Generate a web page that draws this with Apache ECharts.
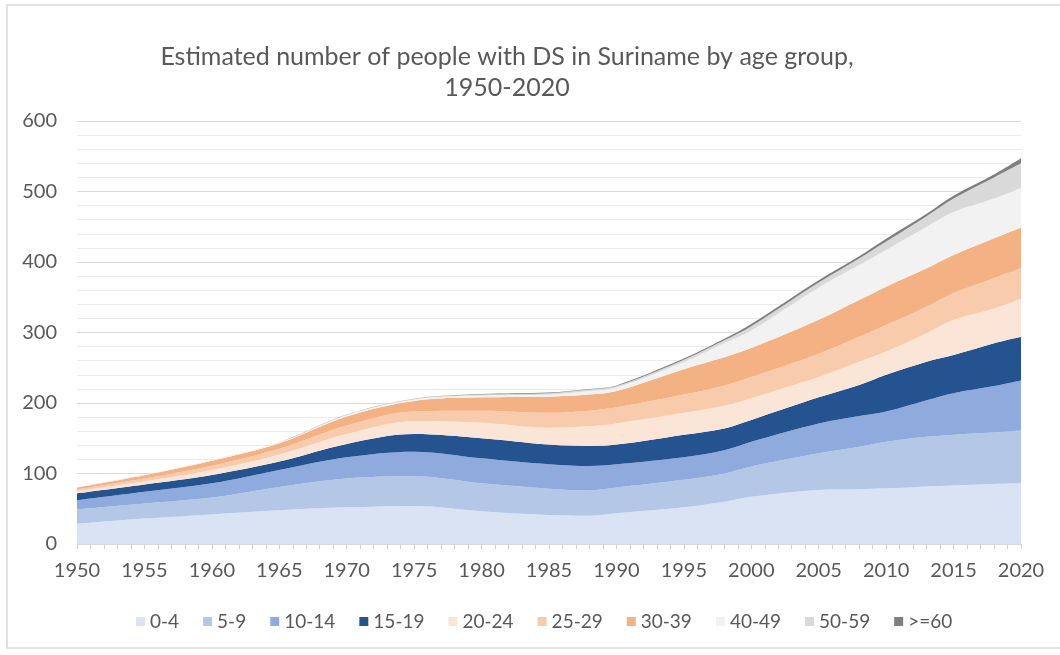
<!DOCTYPE html>
<html>
<head>
<meta charset="utf-8">
<script src="https://cdn.jsdelivr.net/npm/echarts@6/dist/echarts.min.js"></script>
<style>
  html, body { margin: 0; padding: 0; background: #ffffff; }
  #chart { width: 1060px; height: 655px; }
</style>
</head>
<body>
<div id="chart"></div>
<script>
// Years at which the estimates are given
const years = [1950, 1955, 1960, 1965, 1970, 1975, 1980, 1985, 1988, 1990,
               1995, 1998, 2000, 2005, 2008, 2010, 2013, 2015, 2018, 2020];

// Estimated number of people with DS, per age group
const age0_4   = [28.5, 36, 42, 48, 52, 54, 46.5, 41, 40, 43.5, 52, 60, 67, 76.6, 77.6, 79, 81.6, 83, 85, 86];
const age5_9   = [20.5, 21.5, 24, 33, 41, 42, 39.5, 37.5, 36, 36.5, 39, 40, 43, 52, 60.4, 66, 70.4, 72, 73, 75];
const age10_14 = [13, 16.5, 20, 24, 30, 35, 35.5, 34.5, 34.5, 33, 32, 33, 35, 42.4, 43.5, 43, 52, 59, 66, 71];
const age15_19 = [10, 10.5, 12, 12, 19, 25, 28.5, 28, 28.5, 28, 32, 31, 31, 37, 44, 52, 54.6, 54, 60.7, 62];
const age20_24 = [3, 4.5, 7, 10, 14, 18, 22, 24, 28, 30, 31, 32, 31, 29, 33.1, 33, 40.4, 50, 49.3, 54];
const age25_29 = [2.5, 4, 6, 8, 12, 14, 17, 21, 22, 23, 26, 29, 30, 33, 35.4, 37.6, 37.6, 38, 43, 43];
const age30_39 = [2.5, 4.5, 7, 8, 13, 15, 19, 23, 23, 23, 36, 40, 41, 48, 52, 54.4, 54.4, 54, 56.6, 58];
const age40_49 = [0.3, 0.5, 1, 1, 2, 2, 2.5, 3, 5, 5, 10, 20, 25, 46, 49.7, 52, 59, 61, 56.4, 56];
const age50_59 = [0.1, 0.1, 0.2, 0.3, 0.5, 0.8, 1.5, 2, 2, 2, 3.5, 4, 6, 7, 9.3, 12, 15, 19, 30, 35];
const age60up  = [0.1, 0.1, 0.1, 0.1, 0.2, 0.4, 0.8, 1, 1, 1, 1.5, 2, 3, 3, 3, 4, 3.5, 4, 4, 7];

const groupNames  = ['0-4', '5-9', '10-14', '15-19', '20-24', '25-29', '30-39', '40-49', '50-59', '>=60'];
const groupValues = [age0_4, age5_9, age10_14, age15_19, age20_24, age25_29, age30_39, age40_49, age50_59, age60up];
const groupColors = ['#dae3f3', '#b4c7e7', '#8faadc', '#24538f', '#fbe5d6',
                     '#f8cbad', '#f4b183', '#f2f2f2', '#d9d9d9', '#7f7f7f'];

// Axis: one category per calendar year, labelled every fifth year
const firstYear = 1950;
const lastYear = 2020;
const yearAxis = [];
for (let y = firstYear; y <= lastYear; y++) yearAxis.push(String(y));

const yTicks = [0, 100, 200, 300, 400, 500, 600];

const font = 'Lato, "Open Sans", sans-serif';
const textColor = '#595959';

const series = groupNames.map((name, i) => ({
  name: name,
  type: 'line',
  stack: 'people',
  smooth: 0.35,
  symbol: 'none',
  lineStyle: { width: 0 },
  itemStyle: { color: groupColors[i] },
  areaStyle: { color: groupColors[i], opacity: 1 },
  emphasis: { disabled: true },
  data: years.map((y, k) => [String(y), groupValues[i][k]])
}));

const chart = echarts.init(document.getElementById('chart'), null, { renderer: 'canvas' });
chart.setOption({
  animation: false,
  backgroundColor: '#ffffff',
  title: {
    text: 'Estimated number of people with DS in Suriname by age group,\n1950-2020',
    left: 502,
    textAlign: 'center',
    top: 36,
    textStyle: {
      fontFamily: font,
      fontSize: 25,
      fontWeight: 'normal',
      color: textColor,
      lineHeight: 31
    }
  },
  graphic: [{
    type: 'rect',
    shape: { x: 7, y: 5, width: 1070, height: 643 },
    style: { fill: 'none', stroke: '#d9d9d9', lineWidth: 1.5 },
    silent: true,
    z: -1
  }],
  legend: {
    bottom: 19,
    left: 131,
    icon: 'rect',
    itemWidth: 9,
    itemHeight: 9,
    itemGap: 24,
    selectedMode: false,
    textStyle: { fontFamily: font, fontSize: 19, color: textColor },
    data: groupNames
  },
  grid: { left: 77, right: 39, top: 121, bottom: 111, containLabel: false },
  xAxis: {
    type: 'category',
    data: yearAxis,
    boundaryGap: false,
    axisLine: { show: true, lineStyle: { color: '#d9d9d9', width: 1.5 } },
    axisTick: { show: true, interval: 0, length: 5, lineStyle: { color: '#d0d0d0' } },
    splitLine: { show: false },
    axisLabel: {
      interval: 4,
      fontFamily: font, fontSize: 20, color: textColor, margin: 17
    }
  },
  yAxis: {
    type: 'value',
    min: yTicks[0],
    max: yTicks[yTicks.length - 1],
    interval: 100,
    axisLine: { show: false },
    axisTick: { show: false },
    splitLine: { show: true, lineStyle: { color: '#d9d9d9', width: 1.2 } },
    minorTick: { show: false, splitNumber: 5 },
    minorSplitLine: { show: true, lineStyle: { color: '#ebebeb', width: 1 } },
    axisLabel: { fontFamily: font, fontSize: 20, color: textColor, margin: 20 }
  },
  series: series
});
</script>
</body>
</html>
